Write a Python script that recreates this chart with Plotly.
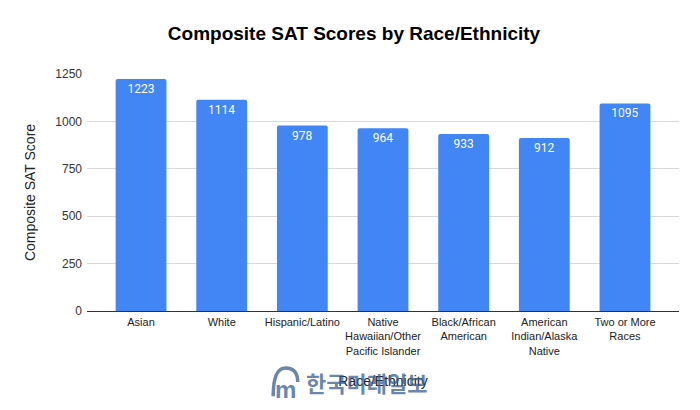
import plotly.graph_objects as go

categories = ["Asian", "White", "Hispanic/Latino", "Native<br>Hawaiian/Other<br>Pacific Islander",
              "Black/African<br>American", "American<br>Indian/Alaska<br>Native", "Two or More<br>Races"]
scores = [1223, 1114, 978, 964, 933, 912, 1095]
y_ticks = [0, 250, 500, 750, 1000, 1250]

WM = "rgba(55,95,145,0.75)"

fig = go.Figure()
fig.add_trace(go.Bar(
    x=list(range(len(categories))), y=scores,
    marker=dict(color="#4285F4", cornerradius=2, line=dict(width=0)),
    width=0.63,
    text=[str(v) for v in scores], textposition="inside", insidetextanchor="end",
    textangle=0,
    textfont=dict(family="Roboto, Arial", size=12, color="white"),
    cliponaxis=False,
))

# page has an 8px body margin; figure sized so it ends at the 700x410 window edge
fig.update_layout(
    width=692, height=402,
    margin=dict(l=79, r=21, t=66, b=99),
    paper_bgcolor="white", plot_bgcolor="white",
    showlegend=False,
    title=dict(text="<b>Composite SAT Scores by Race/Ethnicity</b>",
               x=0.5, xanchor="center", y=(402 - 25) / 402, yanchor="middle",
               font=dict(family="Liberation Sans, Arial", size=19, color="black")),
    xaxis=dict(tickmode="array", tickvals=list(range(len(categories))), ticktext=categories,
               range=[-0.67, 6.67], showgrid=False, zeroline=False, showline=False,
               ticks="", ticklabelstandoff=3,
               tickfont=dict(family="Liberation Sans, Arial", size=11, color="#222"),
               title=dict(text="Race/Ethnicity", standoff=20,
                          font=dict(family="Liberation Sans, Arial", size=14, color="#222"))),
    yaxis=dict(range=[0, 1250], tickvals=y_ticks, showgrid=True, gridcolor="#d9d9d9",
               gridwidth=1, zeroline=True, zerolinecolor="#333", zerolinewidth=1.3,
               ticks="", ticklabelstandoff=4,
               tickfont=dict(family="Liberation Sans, Arial", size=12, color="#333"),
               title=dict(text="Composite SAT Score", standoff=16,
                          font=dict(family="Liberation Sans, Arial", size=14, color="#222"))),
)

# watermark
fig.add_annotation(xref="paper", yref="paper", x=0.366, y=-0.30, xanchor="left", yanchor="middle",
                   text="<b>한국미래일보</b>", showarrow=False,
                   font=dict(family="Noto Sans CJK KR", size=22, color=WM))
fig.add_annotation(xref="paper", yref="paper", x=0.336, y=-0.33, xanchor="center", yanchor="middle",
                   text="<b>m</b>", showarrow=False,
                   font=dict(family="Liberation Sans, Arial", size=24, color=WM))
fig.add_shape(type="path", xref="paper", yref="paper",
              path="M 0.3145,-0.36 Q 0.3145,-0.24 0.335,-0.24 Q 0.356,-0.24 0.356,-0.30",
              line=dict(color=WM, width=3.5))

fig.write_html("out.html")
